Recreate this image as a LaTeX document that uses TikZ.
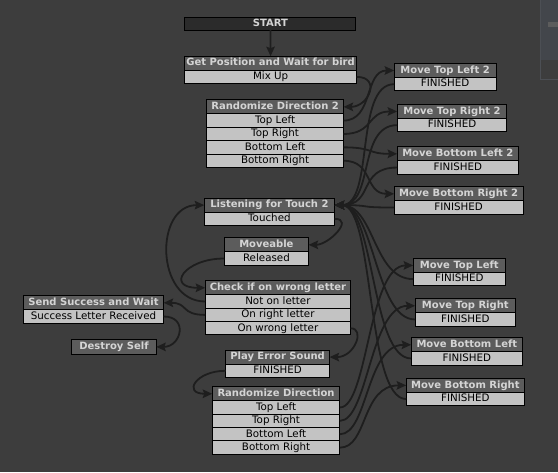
\documentclass[tikz,border=0pt]{standalone}
\usepackage{fontspec}
\setmainfont{DejaVu Sans}
\usetikzlibrary{arrows.meta}
\definecolor{bg}{HTML}{3D3D3D}
\definecolor{hdrfill}{HTML}{5C5C5C}
\definecolor{hdrtext}{HTML}{D4D4D4}
\definecolor{rowfill}{HTML}{C3C3C3}
\definecolor{startfill}{HTML}{2B2B2B}
\definecolor{wirecol}{HTML}{1E1E1E}
\definecolor{panel}{HTML}{43464B}
\definecolor{panelline}{HTML}{4C4F54}
\begin{document}
\begin{tikzpicture}[x=1pt,y=-1pt,
    hdr/.style={draw=black,line width=1pt,fill=hdrfill,text=hdrtext,
      font=\fontsize{10}{12}\selectfont\bfseries,inner sep=0pt,outer sep=0pt,
      anchor=north west,minimum height=14pt,text height=7.4pt,text depth=1.9pt},
    row/.style={draw=black,line width=1pt,fill=rowfill,text=black,
      font=\fontsize{10.3}{12}\selectfont,inner sep=0pt,outer sep=0pt,
      anchor=north west,minimum height=13.4pt,text height=7.4pt,text depth=1.9pt},
    wire/.style={draw=wirecol,line width=1.8pt,
      -{Stealth[length=9.5pt,width=8.5pt,inset=1.5pt]}}]
    \fill[bg] (0,0) rectangle (558,472);
    % editor side panel
    \fill[panel] (540,0) rectangle (558,60);
    \draw[panelline] (540.5,0) -- (540.5,79.5) -- (558,79.5);
    \fill[hdrfill] (548.3,22) rectangle (558,26.7);

    % states
    \node[hdr,fill=startfill,minimum width=171pt,minimum height=13pt] (start) at (185,17) {START};
    \node[hdr,minimum width=172pt] (getpos) at (184.7,56) {Get Position and Wait for bird};
    \node[row,minimum width=172pt] (getposMix) at (getpos.south west) {Mix Up};

    \node[hdr,minimum width=137pt] (rand2) at (206.7,99.7) {Randomize Direction 2};
    \foreach \lbl [count=\i] in {Top Left,Top Right,Bottom Left,Bottom Right}
        \node[row,minimum width=137pt] (rand2-\i) at (206.7,{113.7+13.4*(\i-1)}) {\lbl};

    \node[hdr,minimum width=102pt] (mtl2) at (394.3,63.3) {Move Top Left 2};
    \node[row,minimum width=102pt] (mtl2fin) at (mtl2.south west) {FINISHED};
    \node[hdr,minimum width=109.7pt] (mtr2) at (397.3,104.3) {Move Top Right 2};
    \node[row,minimum width=109.7pt] (mtr2fin) at (mtr2.south west) {FINISHED};
    \node[hdr,minimum width=121.4pt] (mbl2) at (397.3,146.7) {Move Bottom Left 2};
    \node[row,minimum width=121.4pt] (mbl2fin) at (mbl2.south west) {FINISHED};
    \node[hdr,minimum width=129pt] (mbr2) at (394.3,186.7) {Move Bottom Right 2};
    \node[row,minimum width=129pt] (mbr2fin) at (mbr2.south west) {FINISHED};

    \node[hdr,minimum width=130.4pt] (listen) at (204.3,198) {Listening for Touch 2};
    \node[row,minimum width=130.4pt] (listenTouched) at (listen.south west) {Touched};
    \node[hdr,minimum width=84.4pt] (moveable) at (224.3,237.7) {Moveable};
    \node[row,minimum width=84.4pt] (moveableRel) at (moveable.south west) {Released};

    \node[hdr,minimum width=145.4pt] (check) at (205.3,280.7) {Check if on wrong letter};
    \node[row,minimum width=145.4pt] (checkNot) at (check.south west) {Not on letter};
    \node[row,minimum width=145.4pt] (checkRight) at (checkNot.south west) {On right letter};
    \node[row,minimum width=145.4pt] (checkWrong) at (checkRight.south west) {On wrong letter};

    \node[hdr,minimum width=140.4pt] (success) at (23.3,295.7) {Send Success and Wait};
    \node[row,minimum width=140.4pt] (successRec) at (success.south west) {Success Letter Received};
    \node[hdr,minimum width=84.6pt,minimum height=15pt] (destroy) at (71.7,339.3) {Destroy Self};

    \node[hdr,minimum width=104pt] (error) at (225.7,350) {Play Error Sound};
    \node[row,minimum width=104pt] (errorFin) at (error.south west) {FINISHED};

    \node[hdr,minimum width=127.7pt] (rand) at (212.3,386.7) {Randomize Direction};
    \foreach \lbl [count=\i] in {Top Left,Top Right,Bottom Left,Bottom Right}
        \node[row,minimum width=127.7pt] (rand-\i) at (212.3,{400.7+13.4*(\i-1)}) {\lbl};

    \node[hdr,minimum width=92.4pt] (mtl) at (413.3,258.3) {Move Top Left};
    \node[row,minimum width=92.4pt] (mtlfin) at (mtl.south west) {FINISHED};
    \node[hdr,minimum width=100.4pt] (mtr) at (415.3,298.7) {Move Top Right};
    \node[row,minimum width=100.4pt] (mtrfin) at (mtr.south west) {FINISHED};
    \node[hdr,minimum width=111.4pt] (mbl) at (411.3,337.7) {Move Bottom Left};
    \node[row,minimum width=111.4pt] (mblfin) at (mbl.south west) {FINISHED};
    \node[hdr,minimum width=118.4pt] (mbr) at (406.3,378.3) {Move Bottom Right};
    \node[row,minimum width=118.4pt] (mbrfin) at (mbr.south west) {FINISHED};

    % transitions
    \draw[wire] (start.south) -- (getpos.north);
    \draw[wire] (getposMix.east) .. controls +(25,0) and +(25,0) .. (rand2.east);
    \foreach \i/\dst in {1/mtl2,2/mtr2,3/mbl2,4/mbr2}
        \draw[wire] (rand2-\i.east) .. controls +(30,0) and +(-30,0) .. (\dst.west);
    \foreach \src in {mtl2fin,mtr2fin,mbl2fin,mbr2fin,mtlfin,mtrfin,mblfin,mbrfin}
        \draw[wire] (\src.west) .. controls +(-40,0) and +(40,0) .. (listen.east);
    \draw[wire] (listenTouched.east) .. controls +(20,0) and +(20,0) .. (moveable.east);
    \draw[wire] (moveableRel.west) .. controls +(-40,0) and +(-40,0) .. (check.west);
    \draw[wire] (checkNot.west) .. controls +(-50,0) and +(-50,0) .. (listen.west);
    \draw[wire] (checkRight.west) .. controls +(-25,0) and +(25,0) .. (success.east);
    \draw[wire] (successRec.east) .. controls +(25,0) and +(25,0) .. (destroy.east);
    \draw[wire] (checkWrong.east) .. controls +(15,0) and +(25,0) .. (error.east);
    \draw[wire] (errorFin.west) .. controls +(-30,0) and +(-30,0) .. (rand.west);
    \foreach \i/\dst in {1/mtl,2/mtr,3/mbl,4/mbr}
        \draw[wire] (rand-\i.east) .. controls +(28,0) and +(-45,0) .. (\dst.west);
\end{tikzpicture}
\end{document}
